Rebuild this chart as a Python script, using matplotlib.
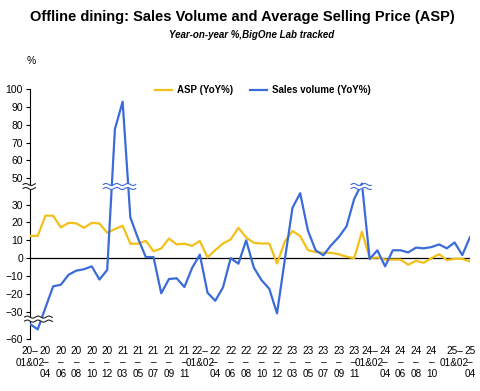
import matplotlib
matplotlib.use("Agg")
import matplotlib.pyplot as plt
import matplotlib.transforms as mtransforms
from matplotlib.ticker import NullLocator
import numpy as np

plt.rcParams['font.family'] = ['Liberation Sans', 'DejaVu Sans']

# monthly YoY %, 20-01&02 ... 25-04 (Jan & Feb combined)
asp_yoy = [12.5, 12.5, 23.8, 23.8, 17.2, 19.8, 19.5, 17.0, 19.8, 19.4, 14.2,
           16.3, 18.2, 8.1, 8.1, 9.7, 3.9, 5.4, 11.0, 7.7, 8.1, 6.9,
           9.6, 0.4, 4.5, 8.2, 10.5, 17.0, 11.6, 8.6, 8.2, 8.2, -3.0,
           9.2, 15.2, 12.4, 4.5, 3.4, 3.0, 3.0, 2.2, 0.8, 0.0, 14.8,
           0.0, 0.4, -0.8, -0.8, -0.8, -3.7, -1.5, -2.6, 0.0, 2.2, -1.1,
           -0.4, -0.4, -1.9]
volume_yoy = [-51.6, -54.6, -27.8, -15.8, -14.9, -9.3, -7.0, -6.2, -4.6, -12.0, -6.6,
              77.5, 92.9, 22.8, 11.0, 0.6, 0.6, -19.7, -11.7, -11.3, -16.2, -5.5,
              2.0, -19.4, -23.9, -16.4, 0.0, -3.1, 10.0, -5.3, -12.4, -17.2, -31.0,
              -1.2, 28.2, 36.4, 15.5, 4.4, 1.6, 7.2, 11.8, 17.8, 33.2, 47.0,
              -0.5, 4.4, -4.6, 4.4, 4.4, 3.2, 5.9, 5.5, 6.2, 7.7, 5.5,
              8.8, 1.7, 11.8]

tick_idx = [0, 2, 4, 6, 8, 10, 12, 14, 16, 18, 20, 22, 24, 26, 28, 30, 32,
            34, 36, 38, 40, 42, 44, 46, 48, 50, 52, 55, 57]
tick_labels = ["20–\n01&02", "20\n–\n04", "20\n–\n06", "20\n–\n08", "20\n–\n10", "20\n–\n12",
               "21\n–\n03", "21\n–\n05", "21\n–\n07", "21\n–\n09", "21\n–\n11",
               "22–\n01&02", "22\n–\n04", "22\n–\n06", "22\n–\n08", "22\n–\n10", "22\n–\n12",
               "23\n–\n03", "23\n–\n05", "23\n–\n07", "23\n–\n09", "23\n–\n11",
               "24–\n01&02", "24\n–\n04", "24\n–\n06", "24\n–\n08", "24\n–\n10",
               "25–\n01&02", "25\n–\n04"]
y_ticks = [-60, -30, -20, -10, 0, 10, 20, 30, 50, 60, 70, 80, 90, 100]

ASP_COLOR = "#F3C01A"
VOL_COLOR = "#3A6BD8"

# broken y axis: visible pieces, same scale, tiny gaps between them
segments = [(-60, -49), (-34, 40), (45.5, 100)]
px_per_unit = 1.79
gap_px = 0.6

knots_v, knots_u = [], []
u = 0.0
for k, (lo, hi) in enumerate(segments):
    if k:
        u += gap_px
    knots_v += [lo, hi]
    knots_u += [u, u + (hi - lo) * px_per_unit]
    u = knots_u[-1]
knots_v = [-1e4] + knots_v + [1e4]
knots_u = [knots_u[0] - (1e4 - 60) * px_per_unit] + knots_u + [knots_u[-1] + (1e4 - 100) * px_per_unit]


def fwd(v):
    return np.interp(v, knots_v, knots_u)


def inv(u):
    return np.interp(u, knots_u, knots_v)


fig = plt.figure(figsize=(4.8, 3.91), dpi=100)
ax = fig.add_axes([30 / 480, 52 / 391, 440 / 480, 250 / 391])
ax.set_yscale('function', functions=(fwd, inv))

x = np.arange(len(asp_yoy))
ax.axhline(0, color='black', lw=0.9, zorder=1)
ax.plot(x, asp_yoy, color=ASP_COLOR, lw=1.6, label="ASP (YoY%)", zorder=3)
ax.plot(x, volume_yoy, color=VOL_COLOR, lw=1.6, label="Sales volume (YoY%)", zorder=4)


def wavy_break(x0, x1, v_lo, v_hi, color):
    u_mid = (fwd(v_lo) + fwd(v_hi)) / 2
    frac = (u_mid - fwd(-60)) / (fwd(100) - fwd(-60))
    tr = mtransforms.blended_transform_factory(ax.transData, ax.transAxes)
    xs = np.linspace(x0, x1, 80)
    wave = 0.004 * np.sin((xs - x0) / 1.4 * 2 * np.pi)
    d = 0.008
    ax.fill_between(xs, frac - d + wave, frac + d + wave, color='white',
                    transform=tr, zorder=6, clip_on=False, lw=0)
    for s in (-d, d):
        ax.plot(xs, frac + s + wave, color=color, lw=0.8, transform=tr,
                zorder=7, clip_on=False)


wavy_break(-0.9, 0.7, 40, 45.5, "#222222")
wavy_break(-0.7, 2.9, -49, -34, "#222222")
wavy_break(9.5, 13.7, 40, 45.5, VOL_COLOR)
wavy_break(41.6, 44.2, 40, 45.5, VOL_COLOR)

ax.set_xlim(0, len(asp_yoy) - 1)
ax.set_ylim(-60, 100)
ax.set_yticks(y_ticks)
ax.yaxis.set_minor_locator(NullLocator())
ax.set_xticks(tick_idx, tick_labels)
ax.tick_params(axis='y', length=3, width=0.8, labelsize=7.5, pad=2)
ax.tick_params(axis='x', length=0, labelsize=7.2, pad=5)
for lbl in ax.get_xticklabels():
    lbl.set_linespacing(1.2)

for side in ['top', 'right', 'bottom']:
    ax.spines[side].set_visible(False)
ax.spines['left'].set_linewidth(0.8)

fig.legend(loc='center', bbox_to_anchor=(263 / 480, 1 - 90 / 391), ncol=2, frameon=False,
           prop={'size': 7, 'weight': 'bold'}, handlelength=1.75, handletextpad=0.5,
           columnspacing=1.75)

fig.text(242 / 480, 1 - 17 / 391, "Offline dining: Sales Volume and Average Selling Price (ASP)",
         ha='center', va='center', fontsize=10.5, fontweight='bold')
fig.text(252 / 480, 1 - 35 / 391, "Year-on-year %,BigOne Lab tracked",
         ha='center', va='center', fontsize=7, fontweight='bold', style='italic')
fig.text(31 / 480, 1 - 61 / 391, "%", ha='center', va='center', fontsize=7.5)

fig.savefig("out.png", dpi=100)
